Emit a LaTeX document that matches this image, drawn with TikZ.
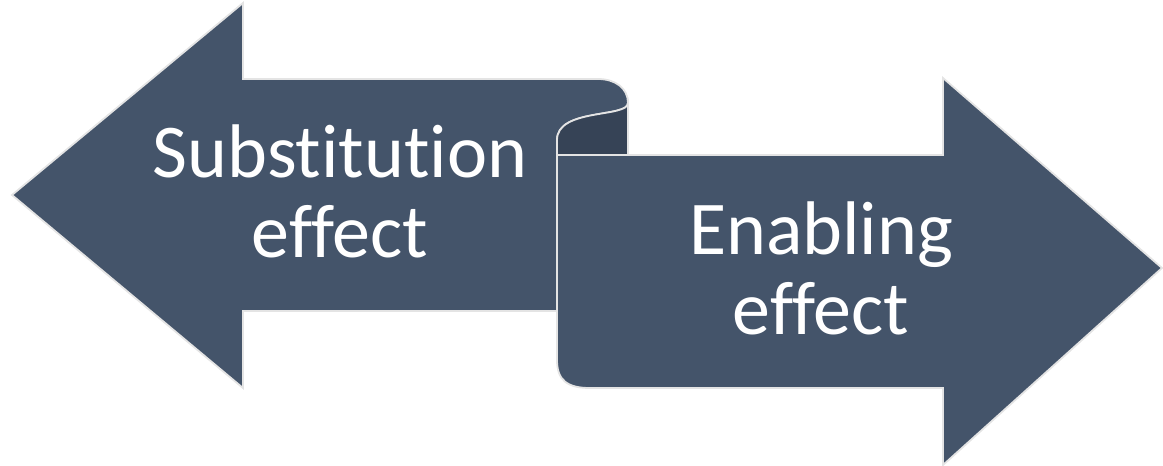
\documentclass[tikz,border=0pt]{standalone}
\usepackage{fontspec}
\setmainfont{Carlito}[Ligatures=NoCommon]
\definecolor{slate}{HTML}{44546A}
\definecolor{slatedark}{HTML}{364356}
\definecolor{rim}{HTML}{E4E4E4}
\begin{document}
\begin{tikzpicture}[x=1pt,y=-1pt,
  shapebody/.style={fill=slate,draw=rim,line width=1.8pt,line join=miter},
  shapeback/.style={fill=slatedark,draw=rim,line width=1.8pt},
  label/.style={text=white,align=center,anchor=base,inner sep=0pt,
    font=\fontsize{76pt}{80pt}\selectfont}]
\useasboundingbox (0,0) rectangle (1163,466);

% left-pointing arrow, its shaft ending in the rolled flap
\draw[shapebody] (12,195) -- (243,3) -- (243,79) -- (598,79)
  .. controls (615,79) and (628,88) .. (628,103)
  .. controls (628,118) and (557,108) .. (557,140)
  -- (557,311) -- (243,311) -- (243,388) -- cycle;

% inside of the roll
\draw[shapeback] (628,103) -- (628,155) -- (557,155) -- (557,140)
  .. controls (557,108) and (628,118) .. (628,103) -- cycle;

% right-pointing arrow
\draw[shapebody] (557,155) -- (557,360)
  .. controls (557,380) and (567,388) .. (590,388)
  -- (943,388) -- (943,465) -- (1162,268) -- (943,78) -- (943,155) -- cycle;

% the base anchor of a two-line node sits on its last line
\node[label] (subst) at (340,257) {Substitution\\effect};
\node[label] (enab) at (821,334) {Enabling\\effect};
\end{tikzpicture}
\end{document}
